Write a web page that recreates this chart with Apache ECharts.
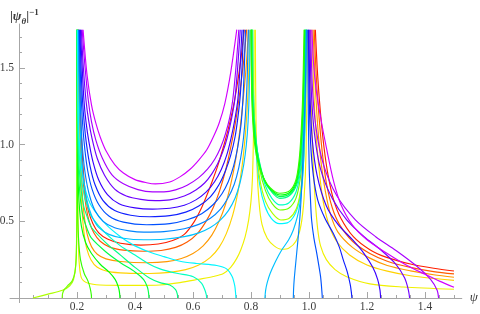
<!DOCTYPE html>
<html><head><meta charset="utf-8">
<script src="https://cdn.jsdelivr.net/npm/echarts@6/dist/echarts.min.js"></script>
<style>html,body{margin:0;padding:0;background:#fff}#c{width:480px;height:314px}</style>
</head><body><div id="c"></div>
<script>
// tick values
const xMajorTicks = [0.2,0.4,0.6,0.8,1.0,1.2,1.4];
const xMinorTicks = [0.05,0.1,0.15,0.25,0.3,0.35,0.45,0.5,0.55,0.65,0.7,0.75,0.85,0.9,0.95,1.05,1.1,1.15,1.25,1.3,1.35,1.45,1.5];
const yMajorTicks = [0.5,1.0,1.5];
const yMinorTicks = [0.1,0.2,0.3,0.4,0.6,0.7,0.8,0.9,1.1,1.2,1.3,1.4,1.6,1.7];

// region psi < 0.2
const a005 = [[0.048,0],[0.1,0.025],[0.15,0.05],[0.175,0.08],[0.188,0.12],[0.196,0.22],[0.199,0.45],[0.2,0.9],[0.2005,1.75]];
const a015 = [[0.149,0],[0.1505,0.03],[0.156,0.055],[0.168,0.08],[0.183,0.11],[0.193,0.17],[0.198,0.3],[0.2,0.7],[0.2005,1.75]];
// region 0.2..0.8, falling to zero
const b025 = [[0.2,1.75],[0.2005,1.1],[0.202,0.6],[0.205,0.4],[0.212,0.25],[0.225,0.16],[0.238,0.11],[0.246,0.06],[0.2495,0.02],[0.25,0]];
const b035 = [[0.2003,1.75],[0.201,1.2],[0.203,0.85],[0.207,0.63],[0.215,0.47],[0.23,0.36],[0.25,0.29],[0.28,0.22],[0.31,0.17],[0.332,0.12],[0.343,0.07],[0.347,0.03],[0.348,0]];
const b045 = [[0.2006,1.75],[0.2015,1.2],[0.204,0.9],[0.21,0.68],[0.22,0.54],[0.235,0.45],[0.25,0.39],[0.3,0.3],[0.35,0.23],[0.4,0.17],[0.43,0.12],[0.443,0.07],[0.447,0.03],[0.448,0]];
const b055 = [[0.2009,1.75],[0.202,1.25],[0.205,0.95],[0.212,0.74],[0.223,0.6],[0.237,0.52],[0.25,0.46],[0.3,0.36],[0.35,0.28],[0.4,0.2],[0.45,0.13],[0.486,0.1],[0.52,0.085],[0.54,0.055],[0.546,0.025],[0.547,0]];
const b065 = [[0.2012,1.75],[0.2025,1.3],[0.206,1.0],[0.214,0.8],[0.226,0.66],[0.24,0.58],[0.25,0.53],[0.3,0.42],[0.35,0.34],[0.4,0.28],[0.45,0.22],[0.486,0.19],[0.544,0.161],[0.601,0.139],[0.63,0.096],[0.641,0.052],[0.646,0.02],[0.647,0]];
const b075 = [[0.2015,1.75],[0.203,1.35],[0.207,1.05],[0.216,0.85],[0.23,0.7],[0.25,0.6],[0.3,0.48],[0.35,0.4],[0.4,0.34],[0.45,0.3],[0.5,0.27],[0.555,0.24],[0.613,0.225],[0.682,0.212],[0.716,0.19],[0.735,0.14],[0.744,0.08],[0.747,0.03],[0.748,0]];
// region 0.2..0.8, U shapes
const u155 = [[0.221,1.75],[0.235,1.45],[0.25,1.26],[0.265,1.14],[0.28,1.05],[0.3,0.96],[0.33,0.87],[0.36,0.815],[0.4,0.772],[0.44,0.752],[0.47,0.744],[0.52,0.757],[0.555,0.79],[0.59,0.84],[0.62,0.9],[0.647,0.965],[0.67,1.05],[0.69,1.14],[0.71,1.27],[0.73,1.47],[0.751,1.75]];
const u145 = [[0.218,1.75],[0.228,1.5],[0.239,1.29],[0.25,1.15],[0.265,1.03],[0.288,0.91],[0.32,0.805],[0.36,0.745],[0.41,0.707],[0.46,0.692],[0.5,0.692],[0.54,0.705],[0.58,0.735],[0.62,0.785],[0.65,0.84],[0.675,0.905],[0.695,0.98],[0.712,1.07],[0.727,1.18],[0.737,1.29],[0.748,1.5],[0.758,1.75]];
const u135 = [[0.215,1.75],[0.222,1.5],[0.231,1.29],[0.24,1.16],[0.252,1.04],[0.27,0.91],[0.295,0.8],[0.33,0.71],[0.37,0.665],[0.42,0.643],[0.47,0.635],[0.52,0.64],[0.57,0.665],[0.61,0.705],[0.64,0.75],[0.665,0.81],[0.685,0.875],[0.703,0.955],[0.718,1.045],[0.732,1.16],[0.744,1.29],[0.754,1.5],[0.763,1.75]];
const u125 = [[0.212,1.75],[0.218,1.5],[0.224,1.29],[0.231,1.15],[0.241,1.02],[0.255,0.89],[0.275,0.77],[0.305,0.675],[0.345,0.615],[0.4,0.588],[0.46,0.58],[0.52,0.585],[0.57,0.605],[0.61,0.64],[0.645,0.69],[0.675,0.76],[0.698,0.84],[0.716,0.93],[0.731,1.04],[0.744,1.16],[0.755,1.3],[0.762,1.5],[0.769,1.75]];
const u115 = [[0.21,1.75],[0.214,1.5],[0.219,1.29],[0.225,1.14],[0.233,1.0],[0.245,0.86],[0.262,0.74],[0.29,0.635],[0.33,0.57],[0.385,0.54],[0.45,0.53],[0.52,0.537],[0.575,0.56],[0.62,0.6],[0.66,0.66],[0.69,0.74],[0.712,0.83],[0.73,0.93],[0.745,1.05],[0.755,1.18],[0.763,1.32],[0.769,1.5],[0.774,1.75]];
const u105 = [[0.208,1.75],[0.211,1.5],[0.215,1.29],[0.22,1.12],[0.227,0.97],[0.237,0.83],[0.252,0.71],[0.275,0.61],[0.31,0.535],[0.36,0.495],[0.44,0.478],[0.52,0.485],[0.58,0.51],[0.63,0.55],[0.67,0.61],[0.7,0.68],[0.722,0.76],[0.74,0.86],[0.754,0.98],[0.765,1.12],[0.772,1.29],[0.777,1.5],[0.781,1.75]];
const u095 = [[0.206,1.75],[0.208,1.5],[0.211,1.29],[0.215,1.1],[0.221,0.93],[0.23,0.79],[0.243,0.67],[0.262,0.57],[0.29,0.5],[0.33,0.458],[0.38,0.438],[0.43,0.43],[0.5,0.433],[0.57,0.452],[0.62,0.48],[0.66,0.52],[0.695,0.58],[0.72,0.65],[0.742,0.74],[0.758,0.85],[0.77,0.98],[0.778,1.12],[0.784,1.3],[0.788,1.5],[0.791,1.75]];
const u085 = [[0.205,1.75],[0.206,1.5],[0.208,1.3],[0.211,1.1],[0.216,0.92],[0.223,0.77],[0.234,0.64],[0.25,0.54],[0.275,0.46],[0.31,0.415],[0.36,0.39],[0.43,0.38],[0.5,0.383],[0.57,0.4],[0.62,0.425],[0.66,0.46],[0.695,0.51],[0.722,0.57],[0.745,0.65],[0.762,0.75],[0.775,0.87],[0.784,1.0],[0.79,1.15],[0.794,1.35],[0.797,1.75]];
const um045 = [[0.206,1.75],[0.209,1.4],[0.213,1.15],[0.218,0.95],[0.223,0.8],[0.23,0.67],[0.24,0.565],[0.255,0.485],[0.275,0.425],[0.305,0.385],[0.35,0.357],[0.42,0.345],[0.48,0.352],[0.53,0.375],[0.57,0.415],[0.605,0.5],[0.63,0.59],[0.65,0.68],[0.668,0.77],[0.685,0.86],[0.704,0.98],[0.72,1.09],[0.735,1.21],[0.75,1.36],[0.764,1.54],[0.777,1.75]];
const um035 = [[0.205,1.75],[0.208,1.4],[0.212,1.12],[0.217,0.9],[0.223,0.73],[0.231,0.6],[0.242,0.5],[0.258,0.425],[0.28,0.37],[0.315,0.33],[0.36,0.312],[0.43,0.305],[0.49,0.31],[0.54,0.33],[0.58,0.365],[0.615,0.42],[0.645,0.5],[0.67,0.59],[0.692,0.7],[0.712,0.83],[0.73,0.98],[0.747,1.15],[0.762,1.35],[0.775,1.55],[0.785,1.75]];
const um025 = [[0.204,1.75],[0.207,1.4],[0.21,1.1],[0.214,0.85],[0.219,0.66],[0.226,0.52],[0.236,0.41],[0.25,0.335],[0.27,0.285],[0.3,0.255],[0.35,0.238],[0.44,0.23],[0.51,0.237],[0.56,0.258],[0.6,0.29],[0.635,0.34],[0.665,0.41],[0.69,0.5],[0.712,0.61],[0.73,0.74],[0.747,0.9],[0.762,1.1],[0.775,1.33],[0.785,1.55],[0.791,1.75]];
const um015 = [[0.203,1.75],[0.205,1.4],[0.208,1.05],[0.212,0.78],[0.217,0.58],[0.224,0.43],[0.234,0.32],[0.248,0.25],[0.27,0.2],[0.31,0.172],[0.37,0.162],[0.45,0.16],[0.52,0.167],[0.575,0.185],[0.62,0.215],[0.66,0.265],[0.69,0.33],[0.715,0.42],[0.737,0.54],[0.755,0.69],[0.77,0.87],[0.782,1.1],[0.79,1.35],[0.796,1.75]];
const um005 = [[0.2,1.75],[0.2015,1.0],[0.203,0.6],[0.205,0.35],[0.208,0.22],[0.216,0.128],[0.239,0.096],[0.279,0.085],[0.4,0.082],[0.486,0.085],[0.555,0.1],[0.62,0.122],[0.67,0.14],[0.705,0.16],[0.73,0.2],[0.75,0.255],[0.765,0.315],[0.78,0.4],[0.792,0.51],[0.8,0.63],[0.805,0.78],[0.808,1.0],[0.81,1.3],[0.811,1.75]];
// region 0.8..1.0, U shapes
const v025 = [[0.8,1.75],[0.803,1.3],[0.81,1.05],[0.822,0.9],[0.842,0.79],[0.866,0.72],[0.9,0.683],[0.934,0.7],[0.955,0.77],[0.966,0.9],[0.972,1.05],[0.978,1.3],[0.983,1.75]];
const v035 = [[0.801,1.75],[0.804,1.3],[0.812,1.05],[0.824,0.9],[0.844,0.78],[0.868,0.71],[0.9,0.672],[0.934,0.69],[0.956,0.76],[0.967,0.88],[0.974,1.05],[0.98,1.3],[0.985,1.75]];
const v045 = [[0.802,1.75],[0.805,1.3],[0.814,1.05],[0.826,0.9],[0.846,0.77],[0.87,0.7],[0.9,0.661],[0.934,0.68],[0.957,0.75],[0.968,0.87],[0.975,1.05],[0.981,1.3],[0.986,1.75]];
const v055 = [[0.803,1.75],[0.806,1.3],[0.815,1.05],[0.828,0.9],[0.848,0.76],[0.872,0.69],[0.9,0.65],[0.934,0.67],[0.958,0.74],[0.97,0.86],[0.977,1.05],[0.983,1.3],[0.988,1.75]];
const v065 = [[0.803,1.75],[0.807,1.3],[0.816,1.05],[0.83,0.87],[0.85,0.73],[0.872,0.65],[0.9,0.607],[0.93,0.62],[0.955,0.69],[0.97,0.82],[0.978,1.0],[0.984,1.3],[0.989,1.75]];
const v015 = [[0.804,1.75],[0.808,1.3],[0.817,1.05],[0.83,0.84],[0.85,0.7],[0.873,0.615],[0.9,0.574],[0.93,0.585],[0.955,0.65],[0.97,0.78],[0.979,0.98],[0.985,1.3],[0.99,1.75]];
const v005 = [[0.805,1.75],[0.809,1.3],[0.818,1.0],[0.83,0.78],[0.85,0.63],[0.875,0.55],[0.903,0.509],[0.932,0.52],[0.956,0.58],[0.971,0.7],[0.981,0.92],[0.987,1.25],[0.991,1.75]];
const v075 = [[0.806,1.75],[0.81,1.25],[0.818,0.95],[0.83,0.74],[0.848,0.6],[0.87,0.52],[0.898,0.485],[0.925,0.49],[0.95,0.54],[0.966,0.63],[0.978,0.8],[0.986,1.1],[0.992,1.75]];
const vm005 = [[0.815,1.75],[0.817,1.2],[0.821,0.85],[0.828,0.62],[0.838,0.48],[0.856,0.39],[0.88,0.34],[0.905,0.318],[0.93,0.325],[0.955,0.37],[0.972,0.47],[0.983,0.65],[0.99,0.95],[0.995,1.75]];
// region 0.8..1.0, rising from zero
const c085 = [[0.848,0],[0.8505,0.05],[0.856,0.1],[0.866,0.16],[0.885,0.24],[0.906,0.313],[0.93,0.38],[0.946,0.444],[0.96,0.53],[0.969,0.618],[0.98,0.835],[0.986,1.16],[0.989,1.4],[0.992,1.75]];
const c095 = [[0.946,0],[0.947,0.06],[0.949,0.12],[0.952,0.183],[0.958,0.3],[0.963,0.4],[0.97,0.56],[0.975,0.726],[0.984,1.16],[0.988,1.4],[0.991,1.75]];
// region psi > 1.0
const r105 = [[0.996,1.75],[0.998,1.16],[1.001,0.835],[1.005,0.65],[1.009,0.51],[1.017,0.39],[1.027,0.29],[1.035,0.2],[1.04,0.139],[1.043,0.08],[1.045,0.03],[1.046,0]];
const r115 = [[0.998,1.75],[1.001,1.3],[1.006,1.0],[1.015,0.8],[1.03,0.64],[1.055,0.52],[1.084,0.42],[1.105,0.33],[1.118,0.25],[1.132,0.17],[1.142,0.09],[1.146,0.04],[1.148,0]];
const r125 = [[1.0,1.75],[1.004,1.3],[1.012,1.02],[1.028,0.8],[1.06,0.6],[1.1,0.48],[1.15,0.38],[1.19,0.29],[1.22,0.2],[1.237,0.12],[1.245,0.05],[1.247,0]];
const r135 = [[1.003,1.75],[1.008,1.35],[1.019,1.07],[1.04,0.84],[1.08,0.65],[1.13,0.51],[1.19,0.4],[1.25,0.31],[1.3,0.22],[1.33,0.13],[1.343,0.05],[1.347,0]];
const r145 = [[1.006,1.75],[1.012,1.37],[1.025,1.1],[1.05,0.87],[1.095,0.67],[1.16,0.51],[1.23,0.4],[1.3,0.31],[1.37,0.21],[1.42,0.12],[1.442,0.05],[1.447,0]];
const r155 = [[1.01,1.75],[1.017,1.5],[1.027,1.33],[1.038,1.2],[1.06,0.98],[1.085,0.76],[1.11,0.61],[1.15,0.475],[1.2,0.38],[1.27,0.29],[1.34,0.21],[1.4,0.155],[1.45,0.11],[1.5,0.07]];
const rm045 = [[1.022,1.75],[1.03,1.45],[1.04,1.2],[1.052,0.98],[1.066,0.8],[1.085,0.64],[1.11,0.52],[1.153,0.4],[1.21,0.315],[1.268,0.265],[1.35,0.222],[1.43,0.194],[1.5,0.176]];
const rm035 = [[1.018,1.75],[1.026,1.42],[1.036,1.15],[1.047,0.93],[1.06,0.75],[1.08,0.59],[1.105,0.48],[1.15,0.37],[1.21,0.29],[1.27,0.24],[1.35,0.2],[1.43,0.172],[1.5,0.157]];
const rm025 = [[1.014,1.75],[1.022,1.38],[1.031,1.1],[1.042,0.88],[1.056,0.7],[1.075,0.54],[1.1,0.43],[1.15,0.33],[1.21,0.26],[1.27,0.212],[1.35,0.177],[1.43,0.152],[1.5,0.135]];
const rm015 = [[1.01,1.75],[1.017,1.33],[1.026,1.03],[1.037,0.8],[1.05,0.62],[1.07,0.47],[1.095,0.37],[1.14,0.28],[1.2,0.215],[1.27,0.175],[1.35,0.145],[1.43,0.127],[1.5,0.115]];
const rm005 = [[1.004,1.75],[1.008,1.25],[1.014,0.9],[1.021,0.65],[1.03,0.45],[1.04,0.34],[1.06,0.25],[1.09,0.185],[1.13,0.139],[1.21,0.092],[1.325,0.072],[1.5,0.057]];

// colours per parameter
const col = {
  m045:'#ff2000', m035:'#ff5c00', m025:'#ff9900', m015:'#ffd200', m005:'#f0f000',
  p005:'#adff00', p015:'#70ff00', p025:'#33ff00', p035:'#00ff0a', p045:'#00ff47',
  p055:'#00ff85', p065:'#00ffc2', p075:'#00f5ff', p085:'#00c2ff', p095:'#0085ff',
  p105:'#0050ff', p115:'#1020ff', p125:'#3a00ff', p135:'#7000ff', p145:'#a800ff', p155:'#d200ff'
};
const curves = [
  [a005,col.p005],[a015,col.p015],
  [um005,col.m005],[um015,col.m015],[um025,col.m025],[um035,col.m035],[um045,col.m045],
  [b025,col.p025],[b035,col.p035],[b045,col.p045],[b055,col.p055],[b065,col.p065],[b075,col.p075],
  [u085,col.p085],[u095,col.p095],[u105,col.p105],[u115,col.p115],[u125,col.p125],[u135,col.p135],[u145,col.p145],[u155,col.p155],
  [vm005,col.m005],[v075,col.p075],[v005,col.p005],[v015,col.p015],[v065,col.p065],[v055,col.p055],[v045,col.p045],[v035,col.p035],[v025,col.p025],
  [c085,col.p085],[c095,col.p095],
  [rm005,col.m005],[rm015,col.m015],[rm025,col.m025],[rm035,col.m035],[rm045,col.m045],
  [r105,col.p105],[r115,col.p115],[r125,col.p125],[r135,col.p135],[r145,col.p145],[r155,col.p155]
];

const axisGray = '#a6a6a6';
const textCol = '#3c3c3c';
const serif = 'Liberation Serif';
const chart = echarts.init(document.getElementById('c'), null, {renderer:'canvas'});
const fmt = v => Number(v).toFixed(1);
chart.setOption({
  animation:false,
  backgroundColor:'#fff',
  title:{
    text:'{b||}{i|ψ}{s|θ}{b||}{p|−1}', left:5, top:3,
    textStyle:{rich:{
      b:{fontFamily:serif,fontSize:13,color:textCol,lineHeight:18,verticalAlign:'middle'},
      i:{fontFamily:serif,fontStyle:'italic',fontSize:13,color:textCol,lineHeight:18,verticalAlign:'middle'},
      s:{fontFamily:serif,fontStyle:'italic',fontSize:9,color:textCol,lineHeight:9,verticalAlign:'bottom'},
      p:{fontFamily:serif,fontSize:9,color:textCol,lineHeight:9,verticalAlign:'top'}
    }}
  },
  grid:{left:10, top:24, width:451.8, height:278.6, containLabel:false, outerBoundsMode:'none'},
  xAxis:[
    {type:'value', position:'bottom', min:-0.031, max:1.527, splitLine:{show:false}, offset:-4.6,
     axisLine:{onZero:false, lineStyle:{color:axisGray,width:1}},
     axisTick:{inside:true, length:6, customValues:xMajorTicks, lineStyle:{color:axisGray}},
     axisLabel:{customValues:xMajorTicks, formatter:fmt, margin:3, fontFamily:serif, fontSize:11.5, color:textCol},
     name:'ψ', nameLocation:'end', nameGap:8,
     nameTextStyle:{fontFamily:serif, fontStyle:'italic', fontSize:13, color:textCol, verticalAlign:'middle', padding:[4,0,0,0]}},
    {type:'value', position:'bottom', min:-0.031, max:1.527, splitLine:{show:false}, offset:-4.6,
     axisLine:{show:false, onZero:false},
     axisTick:{inside:true, length:3, customValues:xMinorTicks, lineStyle:{color:axisGray}},
     axisLabel:{show:false}}
  ],
  yAxis:[
    {type:'value', position:'left', min:-0.03, max:1.787, splitLine:{show:false}, offset:-9,
     axisLine:{onZero:false, lineStyle:{color:axisGray,width:1}},
     axisTick:{inside:true, length:6, customValues:yMajorTicks, lineStyle:{color:axisGray}},
     axisLabel:{customValues:yMajorTicks, formatter:fmt, margin:5, fontFamily:serif, fontSize:11.5, color:textCol}},
    {type:'value', position:'left', min:-0.03, max:1.787, splitLine:{show:false}, offset:-9,
     axisLine:{show:false, onZero:false},
     axisTick:{inside:true, length:3, customValues:yMinorTicks, lineStyle:{color:axisGray}},
     axisLabel:{show:false}}
  ],
  series: curves.map(([d,c]) => ({
    type:'line', data:d, xAxisIndex:0, yAxisIndex:0, symbol:'none', showSymbol:false,
    smooth:0.3, silent:true, clip:true,
    lineStyle:{color:c, width:1.15}
  }))
});
</script></body></html>
